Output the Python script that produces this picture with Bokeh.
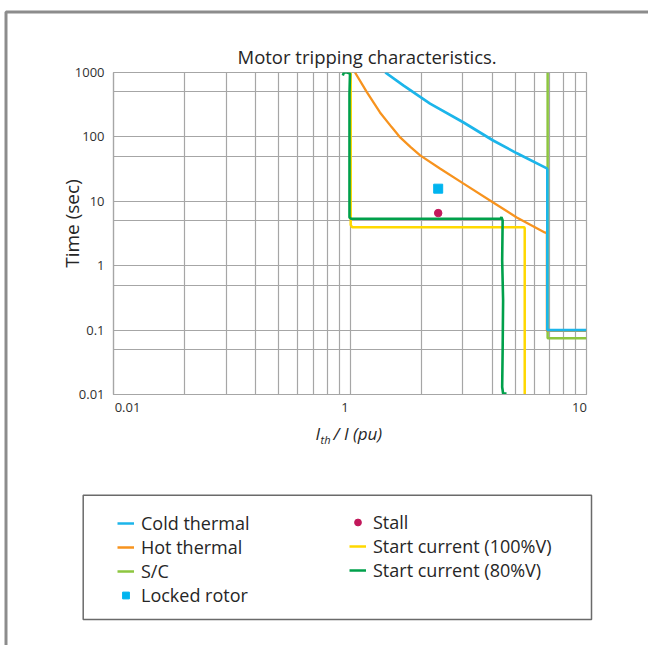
import math
import numpy as np
from bokeh.plotting import figure
from bokeh.models import (FixedTicker, Range1d, Label, Legend, LegendItem,
                          BoxAnnotation, GlobalInlineStyleSheet)
from bokeh.embed import file_html
from bokeh.resources import INLINE

# ---------------- data ----------------
x_ticks = [0.1, 1, 10]
x_tick_labels = ["0.01", "1", "10"]
y_ticks = [0.01, 0.1, 1, 10, 100, 1000]
y_tick_labels = ["0.01", "0.1", "1", "10", "100", "1000"]
x_grid = [0.1, 0.2, 0.3, 0.4, 0.5, 0.6, 0.7, 0.8, 0.9,
          1, 2, 3, 4, 5, 6, 7, 8, 9, 10]
y_grid = [0.01, 0.05, 0.1, 0.5, 1, 5, 10, 50, 100, 500, 1000]

cold_x = [1.41, 1.68, 2.18, 3.01, 4.03, 5.08, 6.80, 6.83, 6.83, 10]
cold_y = [1000, 630, 328, 169, 88, 55.6, 32.5, 31, 0.1, 0.1]

hot_x = [1.05, 1.18, 1.339, 1.50, 1.63, 1.80, 1.98, 2.40, 3.01, 4.03, 5.07, 6.66, 6.80, 6.80, 10]
hot_y = [1000, 490, 240, 142, 98, 70, 51.6, 32.4, 19.0, 9.6, 5.62, 3.29, 3.2, 0.097, 0.097]

sc_x = [6.85, 6.85, 10]
sc_y = [1000, 0.075, 0.075]

start100_x = [1.007, 1.007, 1.02, 5.45, 5.48, 5.48]
start100_y = [1000, 4.3, 3.97, 3.97, 3.8, 0.01]

start80_x = [0.932, 0.943, 0.974, 1.0, 0.995, 0.995, 1.01, 4.33, 4.37, 4.42,
             4.40, 4.44, 4.42, 4.40, 4.44, 4.59]
start80_y = [902, 1000, 1000, 960, 466, 5.6, 5.37, 5.37, 5.69, 5.05,
             1.21, 0.289, 0.0484, 0.0131, 0.0103, 0.0103]

locked_x = [2.36]
locked_y = [15.7]
stall_x = [2.36]
stall_y = [6.56]

legend_col1 = ["Cold thermal", "Hot thermal", "S/C", "Locked rotor"]
legend_col2 = ["Stall", "Start current (100%V)", "Start current (80%V)"]

# ---------------- style ----------------
FONT = "Open Sans"
TXT = "#262626"
TICK = "#303030"
GRID = "#a6a6a6"
C_COLD = "#1cb5ea"
C_HOT = "#f7931e"
C_SC = "#8dc63f"
C_Y = "#ffd800"
C_G = "#00a04b"
C_STALL = "#c2185b"
C_LOCK = "#00b4ef"
BORDER = "#8c8c8c"

# horizontal nudge (px) of the x tick labels, as drawn in the original
X_LABEL_NUDGE_PX = [14, -5, -7]
DECADE_PX = 236.7
x_label_pos = [t * 10 ** (d / DECADE_PX) for t, d in zip(x_ticks, X_LABEL_NUDGE_PX)]

page_css = GlobalInlineStyleSheet(css="html, body { overflow: hidden; }")

# ---------------- page background with the panel rules ----------------
# p0 data units are window pixels (y measured upward from the bottom)
p0 = figure(width=648, height=645, x_range=Range1d(0, 648), y_range=Range1d(0, 645),
            x_axis_location=None, y_axis_location=None,
            output_backend="svg", toolbar_location=None, min_border=0, margin=0,
            styles={"position": "absolute", "left": "0px", "top": "0px"},
            stylesheets=[page_css])
p0.grid.visible = False
p0.outline_line_color = None
p0.add_layout(BoxAnnotation(left=5.5, right=900, bottom=-200, top=633.5,
                            fill_alpha=0, line_color=BORDER, line_alpha=1,
                            line_width=3))
# y axis title
p0.add_layout(Label(text="Time (sec)", x=71, y=422, angle=math.pi / 2,
                    text_font=FONT, text_font_size="19px", text_color=TXT,
                    text_align="center", text_baseline="alphabetic"))

# ---------------- main chart ----------------
p = figure(width=648, height=430, x_axis_type="log", y_axis_type="log",
           x_range=Range1d(0.1, 10), y_range=Range1d(0.01, 1000),
           output_backend="svg", toolbar_location=None,
           min_border_left=113, min_border_right=62,
           min_border_top=72, min_border_bottom=36, margin=0,
           styles={"position": "absolute", "left": "0px", "top": "0px"})
p.background_fill_alpha = 0
p.border_fill_alpha = 0

p.title.text = "Motor tripping characteristics."
p.title.align = "left"
p.title.offset = 124
p.title.standoff = 7
p.title.text_font = FONT
p.title.text_font_size = "18.5px"
p.title.text_font_style = "normal"
p.title.text_color = TXT

p.xaxis.ticker = FixedTicker(ticks=x_label_pos, minor_ticks=[])
p.xaxis.major_label_overrides = dict(zip(x_label_pos, x_tick_labels))
p.yaxis.ticker = FixedTicker(ticks=y_ticks, minor_ticks=[])
p.yaxis.major_label_overrides = dict(zip(y_ticks, y_tick_labels))
for ax in (p.xaxis[0], p.yaxis[0]):
    ax.major_tick_line_color = None
    ax.minor_tick_line_color = None
    ax.major_tick_out = 0
    ax.major_tick_in = 0
    ax.minor_tick_out = 0
    ax.minor_tick_in = 0
    ax.axis_line_color = GRID
    ax.axis_line_width = 1.2
    ax.major_label_text_font = FONT
    ax.major_label_text_font_size = "13px"
    ax.major_label_text_color = TICK
    ax.major_label_standoff = 9
p.xaxis.major_label_standoff = 8

p.xgrid.ticker = FixedTicker(ticks=x_grid)
p.ygrid.ticker = FixedTicker(ticks=y_grid)
p.grid.grid_line_color = GRID
p.grid.grid_line_width = 1.2
p.outline_line_color = GRID
p.outline_line_width = 1.2

p.line(sc_x, sc_y, color=C_SC, line_width=2.5)
p.line(start100_x, start100_y, color=C_Y, line_width=2.5)
p.line(hot_x, hot_y, color=C_HOT, line_width=2.3)
p.line(cold_x, cold_y, color=C_COLD, line_width=2.7)
p.line(start80_x, start80_y, color=C_G, line_width=2.6)
p.scatter(locked_x, locked_y, marker="square", size=9, color=C_LOCK)
p.scatter(stall_x, stall_y, marker="circle", size=7.5, color=C_STALL)

# ---------------- x label + legend panel ----------------
# p2 data units are pixels measured from its lower-left corner
p2 = figure(width=514, height=206, x_range=Range1d(0, 514), y_range=Range1d(0, 206),
            x_axis_location=None, y_axis_location=None,
            output_backend="svg", toolbar_location=None, min_border=0, margin=0,
            styles={"position": "absolute", "left": "80px", "top": "418px"})
p2.grid.visible = False
p2.outline_line_color = None
p2.background_fill_alpha = 0
p2.border_fill_alpha = 0

lab_kw = dict(text_font=FONT, text_font_style="italic", text_color=TXT,
              text_baseline="alphabetic", text_align="left")
p2.add_layout(Label(text="I", x=235, y=190.7, text_font_size="17px", **lab_kw))
p2.add_layout(Label(text="th", x=240, y=185, text_font_size="11px", **lab_kw))
p2.add_layout(Label(text="/ I (pu)", x=253, y=190.7, text_font_size="17px", **lab_kw))

p2.add_layout(BoxAnnotation(left=2.7, right=511, bottom=5, top=129.3,
                            fill_alpha=0, line_color="#6a6a6a", line_alpha=1,
                            line_width=1.5))

nan = np.array([np.nan])
g_cold = p2.line(nan, nan, color=C_COLD, line_width=2.5)
g_hot = p2.line(nan, nan, color=C_HOT, line_width=2.5)
g_sc = p2.line(nan, nan, color=C_SC, line_width=2.5)
g_lock = p2.scatter(nan, nan, marker="square", color=C_LOCK)
g_stall = p2.scatter(nan, nan, marker="circle", color=C_STALL)
g_y = p2.line(nan, nan, color=C_Y, line_width=2.5)
g_g = p2.line(nan, nan, color=C_G, line_width=2.5)

leg_kw = dict(border_line_color=None, background_fill_alpha=0, padding=0, margin=0,
              spacing=0, label_height=20, glyph_height=20, glyph_width=17,
              label_standoff=7, label_text_font=FONT, label_text_font_size="18px",
              label_text_color=TXT)
leg_a = Legend(items=[LegendItem(label=t, renderers=[r]) for t, r in
                      zip(legend_col1, [g_cold, g_hot, g_sc, g_lock])],
               location=(37, 17), **leg_kw)
leg_b = Legend(items=[LegendItem(label=t, renderers=[r]) for t, r in
                      zip(legend_col2, [g_stall, g_y, g_g])],
               location=(269, 42), **leg_kw)
p2.add_layout(leg_a)
p2.add_layout(leg_b)

open("out.html", "w").write(file_html([p0, p, p2], INLINE))
